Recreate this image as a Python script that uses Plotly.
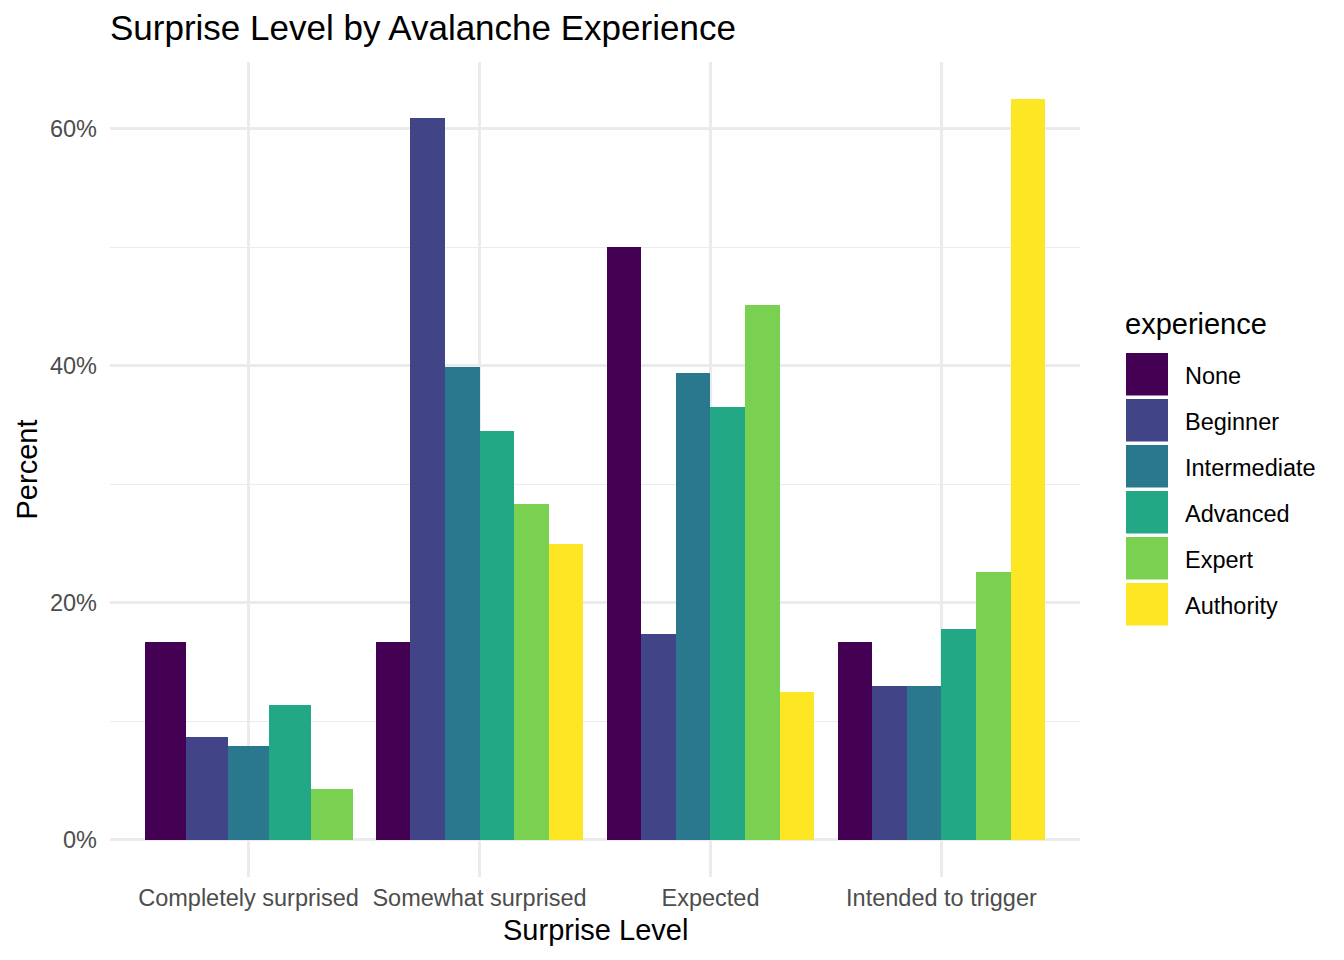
import plotly.graph_objects as go

# ---- data ----
categories = ["Completely surprised", "Somewhat surprised", "Expected", "Intended to trigger"]
experience = ["None", "Beginner", "Intermediate", "Advanced", "Expert", "Authority"]
pct_none = [16.7, 16.7, 50.0, 16.7]
pct_beginner = [8.7, 60.9, 17.4, 13.0]
pct_intermediate = [7.9, 39.9, 39.4, 13.0]
pct_advanced = [11.4, 34.5, 36.5, 17.8]
pct_expert = [4.3, 28.3, 45.1, 22.6]
pct_authority = [None, 25.0, 12.5, 62.5]
y_ticks = [0, 20, 40, 60]
y_tick_labels = ["0%", "20%", "40%", "60%"]

series = [pct_none, pct_beginner, pct_intermediate, pct_advanced, pct_expert, pct_authority]
colors = ["#440154", "#414487", "#2A788E", "#22A884", "#7AD151", "#FDE725"]

# ---- layout geometry (pixels) ----
W, H = 1344, 960
L, R, T, B = 110, 264, 62, 83
PW, PH = W - L - R, H - T - B


def px_x(p):
    return (p - L) / PW


def px_y(p):
    return (H - B - p) / PH


FONT = "Liberation Sans, Arial, Helvetica, sans-serif"

# ---- dodge positions (ggplot position_dodge, width 0.9) ----
dodge = 0.9
xs = {e: [] for e in experience}
ws = {e: [] for e in experience}
ys = {e: [] for e in experience}
for ci, cat in enumerate(categories):
    present = [i for i in range(len(experience)) if series[i][ci] is not None]
    n = len(present)
    w = dodge / n
    for r, i in enumerate(present):
        xs[experience[i]].append(ci + 1 - dodge / 2 + w * (r + 0.5))
        ws[experience[i]].append(w)
        ys[experience[i]].append(series[i][ci])

fig = go.Figure()
for i, e in enumerate(experience):
    fig.add_trace(go.Bar(
        x=xs[e], y=ys[e], width=ws[e], name=e,
        marker=dict(color=colors[i], line=dict(width=0)),
        showlegend=False,
        hovertemplate=e + ": %{y:.1f}%<extra></extra>",
    ))

grid = "#EBEBEB"
fig.update_layout(
    width=W, height=H,
    margin=dict(l=L, r=R, t=T, b=B, autoexpand=False),
    paper_bgcolor="white", plot_bgcolor="white",
    barmode="overlay",
    bargap=0,
    font=dict(family=FONT, color="#000000"),
    title=dict(text="Surprise Level by Avalanche Experience",
               x=px_x(110), xref="paper", xanchor="left",
               y=1 - 28 / H, yref="container", yanchor="middle",
               font=dict(size=35, color="#000000", family=FONT)),
    xaxis=dict(
        range=[0.4, 4.6],
        tickvals=[1, 2, 3, 4], ticktext=categories,
        showgrid=True, gridcolor=grid, gridwidth=2.8,
        zeroline=False, showline=False, ticks="",
        tickfont=dict(size=23.5, color="#4D4D4D", family=FONT),
        ticklabelstandoff=4,
        fixedrange=True,
    ),
    yaxis=dict(
        range=[-3.125, 65.625],
        tickvals=y_ticks, ticktext=y_tick_labels,
        showgrid=True, gridcolor=grid, gridwidth=2.8,
        minor=dict(tickvals=[10, 30, 50], showgrid=True, gridcolor=grid, gridwidth=1.4, ticks=""),
        zeroline=False, showline=False, ticks="",
        tickfont=dict(size=23.5, color="#4D4D4D", family=FONT),
        ticklabelstandoff=12,
        fixedrange=True,
    ),
)

annotations = [
    dict(text="Surprise Level", xref="paper", yref="paper",
         x=0.5, y=px_y(930), xanchor="center", yanchor="middle",
         showarrow=False, font=dict(size=29, color="#000000", family=FONT)),
    dict(text="Percent", xref="paper", yref="paper",
         x=px_x(26), y=0.5, xanchor="center", yanchor="middle", textangle=-90,
         showarrow=False, font=dict(size=29, color="#000000", family=FONT)),
    dict(text="experience", xref="paper", yref="paper",
         x=px_x(1123), y=px_y(324), xanchor="left", yanchor="middle",
         showarrow=False, font=dict(size=29, color="#000000", family=FONT)),
]

shapes = []
for i, e in enumerate(experience):
    top = 353 + 46 * i
    shapes.append(dict(type="rect", xref="paper", yref="paper",
                       x0=px_x(1126), x1=px_x(1168),
                       y0=px_y(top + 42.5), y1=px_y(top),
                       fillcolor=colors[i], line=dict(width=0), layer="above"))
    annotations.append(dict(text=e, xref="paper", yref="paper",
                            x=px_x(1183), y=px_y(top + 23), xanchor="left", yanchor="middle",
                            showarrow=False, font=dict(size=23.5, color="#000000", family=FONT)))

fig.update_layout(annotations=annotations, shapes=shapes)

fig.write_html("out.html", config=dict(displayModeBar=False))
